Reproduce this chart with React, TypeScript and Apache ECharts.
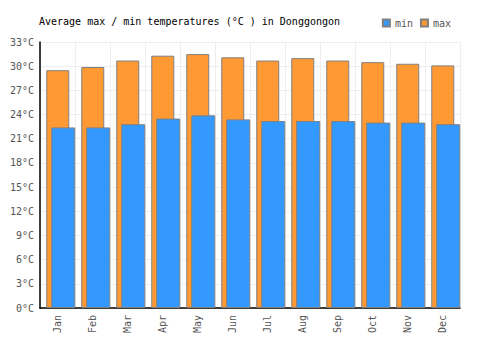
import React, { useEffect, useRef } from "react";
import * as echarts from "echarts";

const months = ["Jan", "Feb", "Mar", "Apr", "May", "Jun", "Jul", "Aug", "Sep", "Oct", "Nov", "Dec"];
const maxTemps = [29.5, 29.9, 30.7, 31.3, 31.5, 31.1, 30.7, 31.0, 30.7, 30.5, 30.3, 30.1];
const minTemps = [22.4, 22.4, 22.8, 23.5, 23.9, 23.4, 23.2, 23.2, 23.2, 23.0, 23.0, 22.8];
const spacer = months.map(() => "-");

const MONO = "'DejaVu Sans Mono', 'Liberation Mono', monospace";

export default function App() {
  const ref = useRef<HTMLDivElement>(null);
  useEffect(() => {
    if (!ref.current) return;
    const chart = echarts.init(ref.current, undefined, { renderer: "svg" });
    chart.setOption({
      animation: false,
      backgroundColor: "#fff",
      title: {
        text: "Average max / min temperatures (°C ) in Donggongon",
        left: 34,
        top: 11,
        textStyle: { fontFamily: MONO, fontSize: 10, fontWeight: "normal", color: "#000" },
      },
      legend: {
        data: ["min", "max"],
        right: 44,
        top: 13,
        itemWidth: 7,
        itemHeight: 7,
        itemGap: 7,
        icon: "rect",
        textStyle: { fontFamily: MONO, fontSize: 10, color: "#555" },
      },
      grid: { left: 40, right: 40, top: 42, bottom: 42, containLabel: false },
      xAxis: {
        type: "category",
        data: months,
        axisLine: { lineStyle: { color: "#000", width: 1.5 } },
        axisTick: { show: false },
        axisLabel: { rotate: 90, color: "#555", fontFamily: MONO, fontSize: 10, margin: 7 },
        splitLine: { show: true, lineStyle: { color: "#eee", width: 1 } },
      },
      yAxis: {
        type: "value",
        min: 0,
        max: 33,
        interval: 3,
        axisLine: { show: true, lineStyle: { color: "#000", width: 1.5 } },
        axisTick: { show: false },
        axisLabel: { formatter: "{value}°C", color: "#555", fontFamily: MONO, fontSize: 10, margin: 6 },
        splitLine: { show: true, lineStyle: { color: "#eee", width: 1 } },
      },
      series: [
        {
          name: "spacer",
          type: "bar",
          data: spacer,
          barWidth: 30,
          barGap: "-78.3%",
          itemStyle: { color: "transparent" },
          silent: true,
        },
        {
          name: "max",
          type: "bar",
          data: maxTemps,
          barWidth: 23,
          barGap: "-78.3%",
          itemStyle: { color: "#ff9933", borderColor: "#808080", borderWidth: 1 },
        },
        {
          name: "min",
          type: "bar",
          data: minTemps,
          barWidth: 24,
          barGap: "-78.3%",
          itemStyle: { color: "#3399ff", borderColor: "#808080", borderWidth: 1 },
        },
      ],
    });
    return () => chart.dispose();
  }, []);
  return <div ref={ref} style={{ width: 500, height: 350, position: "absolute", left: 0, top: 0 }} />;
}
